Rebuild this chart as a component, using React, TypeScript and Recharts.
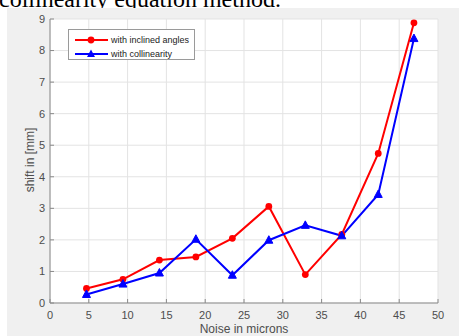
import { LineChart, Line, XAxis, YAxis, CartesianGrid, Legend } from 'recharts'

// noise level (microns) and measured shift (mm) per method
const noise = [4.7, 9.4, 14.1, 18.8, 23.5, 28.2, 32.9, 37.6, 42.3, 46.9]
const inclined = [0.46, 0.75, 1.36, 1.46, 2.05, 3.06, 0.9, 2.17, 4.74, 8.88]
const collinearity = [0.27, 0.6, 0.95, 2.02, 0.88, 1.99, 2.46, 2.13, 3.44, 8.38]
const xTicks = [0, 5, 10, 15, 20, 25, 30, 35, 40, 45, 50]
const yTicks = [0, 1, 2, 3, 4, 5, 6, 7, 8, 9]
const seriesNames = ['with inclined angles', 'with collinearity']

const data = noise.map((x, i) => ({ x, inclined: inclined[i], collinearity: collinearity[i] }))

const axisColor = '#8a8a8a'
const labelColor = '#4d4d4d'
const font = '"Liberation Sans", Arial, sans-serif'

function Triangle(props: any) {
  const { cx, cy, index } = props
  if (cx == null || cy == null) return null
  return (
    <polygon
      key={index}
      points={`${cx},${cy - 4.5} ${cx + 4},${cy + 3} ${cx - 4},${cy + 3}`}
      fill="#0000ff"
      stroke="#0000ff"
    />
  )
}

function LegendBox() {
  return (
    <svg width={127} height={31} style={{ display: 'block' }}>
      <line x1={6} y1={10} x2={39} y2={10} stroke="#ff0000" strokeWidth={2} />
      <circle cx={22} cy={10} r={3.4} fill="#ff0000" />
      <text x={42} y={13.2} fontSize={9} fill="#222" fontFamily={font}>
        {seriesNames[0]}
      </text>
      <line x1={6} y1={24} x2={39} y2={24} stroke="#0000ff" strokeWidth={2} />
      <polygon points="22,19.5 26,27 18,27" fill="#0000ff" />
      <text x={42} y={27.2} fontSize={9} fill="#222" fontFamily={font}>
        {seriesNames[1]}
      </text>
    </svg>
  )
}

export default function App() {
  return (
    <div style={{ position: 'absolute', left: 0, top: 0, width: 459, height: 336, background: '#fff', overflow: 'hidden' }}>
      <div
        style={{
          position: 'absolute',
          left: -1,
          top: -14,
          fontFamily: '"Liberation Serif", "Times New Roman", "DejaVu Serif", serif',
          fontSize: 24,
          lineHeight: 'normal',
          color: '#000',
          whiteSpace: 'nowrap',
        }}
      >
        collinearity equation method.
      </div>
      <div style={{ position: 'absolute', left: 7, top: 8, width: 452, height: 328, background: '#f0f0f0' }} />
      <div style={{ position: 'absolute', left: 0, top: 0 }}>
        <LineChart width={459} height={336} data={data} margin={{ top: 19, right: 21, bottom: 0, left: 0 }}>
          <CartesianGrid xAxisId="b" yAxisId="l" stroke="#e3e3e3" fill="#fff" />
          <XAxis
            xAxisId="b"
            type="number"
            dataKey="x"
            domain={[0, 50]}
            ticks={xTicks}
            height={33}
            stroke={axisColor}
            tickSize={-4}
            tickMargin={12}
            tick={{ fill: labelColor, fontSize: 11, fontFamily: font }}
          />
          <XAxis
            xAxisId="t"
            orientation="top"
            type="number"
            dataKey="x"
            domain={[0, 50]}
            ticks={xTicks}
            height={0}
            stroke={axisColor}
            tickSize={-4}
            tickFormatter={() => ''}
          />
          <YAxis
            yAxisId="l"
            type="number"
            domain={[0, 9]}
            ticks={yTicks}
            width={50}
            stroke={axisColor}
            tickSize={-4}
            tickMargin={9}
            tick={{ fill: labelColor, fontSize: 11, fontFamily: font }}
          />
          <YAxis
            yAxisId="r"
            orientation="right"
            type="number"
            domain={[0, 9]}
            ticks={yTicks}
            width={0}
            stroke={axisColor}
            tickSize={-4}
            tickFormatter={() => ''}
          />
          <Legend
            layout="vertical"
            align="center"
            verticalAlign="middle"
            content={() => <LegendBox />}
            wrapperStyle={{
              left: 68,
              top: 29,
              width: 127,
              height: 31,
              background: '#fff',
              border: '1px solid #9a9a9a',
              boxSizing: 'border-box',
            }}
          />
          <Line
            xAxisId="b"
            yAxisId="l"
            dataKey="inclined"
            name={seriesNames[0]}
            stroke="#ff0000"
            strokeWidth={2}
            dot={{ r: 3.4, fill: '#ff0000', stroke: '#ff0000', strokeWidth: 0 }}
            isAnimationActive={false}
          />
          <Line
            xAxisId="b"
            yAxisId="l"
            dataKey="collinearity"
            name={seriesNames[1]}
            stroke="#0000ff"
            strokeWidth={2}
            dot={<Triangle />}
            isAnimationActive={false}
          />
        </LineChart>
      </div>
      <div
        style={{
          position: 'absolute',
          left: 144,
          top: 322,
          width: 200,
          textAlign: 'center',
          fontFamily: font,
          fontSize: 12,
          color: labelColor,
        }}
      >
        Noise in microns
      </div>
      <div style={{ position: 'absolute', left: 30, top: 161, width: 0, height: 0 }}>
        <div
          style={{
            position: 'absolute',
            left: -60,
            top: -8,
            width: 120,
            textAlign: 'center',
            fontFamily: font,
            fontSize: 12,
            color: labelColor,
            transform: 'rotate(-90deg)',
            whiteSpace: 'nowrap',
          }}
        >
          shift in [mm]
        </div>
      </div>
    </div>
  )
}
